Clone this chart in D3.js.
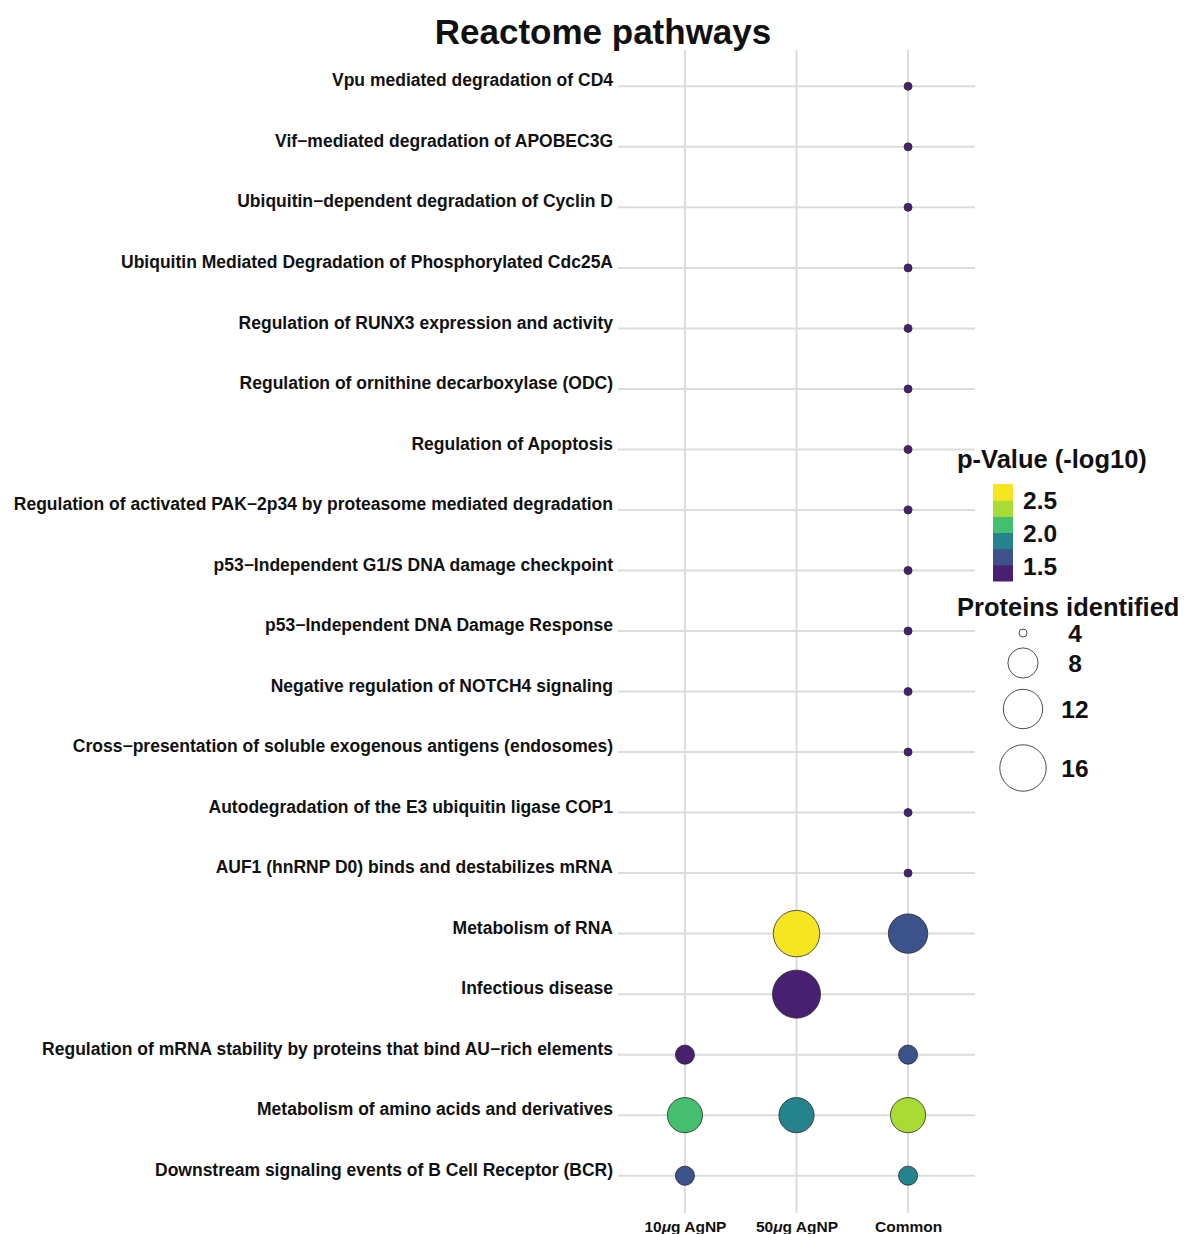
<!DOCTYPE html>
<html>
<head>
<meta charset="utf-8">
<script src="https://cdn.jsdelivr.net/npm/d3@7"></script>
<style>
  body { margin: 0; background: #fff; }
  text { font-family: "Liberation Sans", Arial, sans-serif; font-weight: bold; fill: #111; }
</style>
</head>
<body>
<div id="chart"></div>
<script>
// pathways, top to bottom
var pathways = [
  "Vpu mediated degradation of CD4",
  "Vif\u2212mediated degradation of APOBEC3G",
  "Ubiquitin\u2212dependent degradation of Cyclin D",
  "Ubiquitin Mediated Degradation of Phosphorylated Cdc25A",
  "Regulation of RUNX3 expression and activity",
  "Regulation of ornithine decarboxylase (ODC)",
  "Regulation of Apoptosis",
  "Regulation of activated PAK\u22122p34 by proteasome mediated degradation",
  "p53\u2212Independent G1/S DNA damage checkpoint",
  "p53\u2212Independent DNA Damage Response",
  "Negative regulation of NOTCH4 signaling",
  "Cross\u2212presentation of soluble exogenous antigens (endosomes)",
  "Autodegradation of the E3 ubiquitin ligase COP1",
  "AUF1 (hnRNP D0) binds and destabilizes mRNA",
  "Metabolism of RNA",
  "Infectious disease",
  "Regulation of mRNA stability by proteins that bind AU\u2212rich elements",
  "Metabolism of amino acids and derivatives",
  "Downstream signaling events of B Cell Receptor (BCR)"
];
var groups = ["10\u00b5g AgNP", "50\u00b5g AgNP", "Common"];

// proteins identified per group (null = not enriched)
var count10 = [null,null,null,null,null,null,null,null,null,null,null,null,null,null, null, null, 5, 10, 5];
var count50 = [null,null,null,null,null,null,null,null,null,null,null,null,null,null, 16, 17, null, 10, null];
var countCommon = [4,4,4,4,4,4,4,4,4,4,4,4,4,4, 12, null, 5, 10, 5];

// -log10 p-value per group
var p10 = [null,null,null,null,null,null,null,null,null,null,null,null,null,null, null, null, 1.4, 2.3, 1.64];
var p50 = [null,null,null,null,null,null,null,null,null,null,null,null,null,null, 2.72, 1.4, null, 1.93, null];
var pCommon = [1.4,1.4,1.4,1.4,1.4,1.4,1.4,1.4,1.4,1.4,1.4,1.4,1.4,1.4, 1.64, null, 1.64, 2.55, 1.93];

var colorTicks = [1.5, 2.0, 2.5];
var colorDomain = [1.27, 2.74];
var colorBlocks = [1.4, 1.64, 1.93, 2.3, 2.55, 2.72];
var sizeBreaks = [4, 8, 12, 16];
var sizeDomain = [4, 17];

var points = [];
[[count10, p10], [count50, p50], [countCommon, pCommon]].forEach(function(s, gi){
  pathways.forEach(function(name, i){
    if (s[0][i] != null) points.push({path: name, group: groups[gi], n: s[0][i], p: s[1][i]});
  });
});

var W = 1184, H = 1234;
var svg = d3.select("#chart").append("svg").attr("width", W).attr("height", H);

var x = d3.scalePoint().domain(groups).range([618, 975]).padding(0.6);
var y = d3.scalePoint().domain(pathways).range([50, 1212]).padding(0.6);

// ggplot-like area scale: radius grows with sqrt of rescaled value
var rs = d3.scaleSqrt().domain([0, 1]).range([0, 20]);
function radius(v){ return 4 + rs((v - sizeDomain[0]) / (sizeDomain[1] - sizeDomain[0])); }

var color = d3.scaleSequential(d3.interpolateViridis).domain(colorDomain);

// grid
svg.append("g").selectAll("line").data(pathways).enter().append("line")
  .attr("x1", 618).attr("x2", 975)
  .attr("y1", function(d){ return y(d); }).attr("y2", function(d){ return y(d); })
  .attr("stroke", "#dcdcdc").attr("stroke-width", 2);
svg.append("g").selectAll("line").data(groups).enter().append("line")
  .attr("y1", 50).attr("y2", 1213)
  .attr("x1", function(d){ return x(d); }).attr("x2", function(d){ return x(d); })
  .attr("stroke", "#dcdcdc").attr("stroke-width", 2);

// y labels
var yAxis = svg.append("g").attr("transform", "translate(613,-6)")
  .call(d3.axisLeft(y).tickSize(0).tickPadding(0));
yAxis.select(".domain").remove();
yAxis.selectAll("text").style("font-size", "17.5px").attr("fill", "#111")
  .style("font-family", "'Liberation Sans', Arial, sans-serif");

// x labels
var xAxis = svg.append("g").attr("transform", "translate(0,1213)")
  .call(d3.axisBottom(x).tickSize(0).tickPadding(0));
xAxis.select(".domain").remove();
xAxis.selectAll("text").attr("dy", "1.2em").style("font-size", "15.5px").attr("fill", "#111")
  .style("font-family", "'Liberation Sans', Arial, sans-serif")
  .each(function(d){
    var t = d3.select(this);
    var m = d.match(/^(\d+)\u00b5(g.*)$/);
    if (m) {
      t.text("");
      t.append("tspan").text(m[1]);
      t.append("tspan").style("font-style", "italic").text("\u03bc");
      t.append("tspan").text(m[2]);
    }
  });

// bubbles
svg.append("g").selectAll("circle").data(points).enter().append("circle")
  .attr("cx", function(d){ return x(d.group); })
  .attr("cy", function(d){ return y(d.path); })
  .attr("r", function(d){ return radius(d.n); })
  .attr("fill", function(d){ return color(d.p); })
  .attr("stroke", "#2a2a2a").attr("stroke-width", 0.8);

// title
svg.append("text").attr("x", 603).attr("y", 44).attr("text-anchor", "middle")
  .style("font-size", "35px").text("Reactome pathways");

// colour legend
svg.append("text").attr("x", 957).attr("y", 468).style("font-size", "25.5px").text("p-Value (-log10)");
var cbTop = 484, cbBottom = 581;
var cy = d3.scaleLinear().domain(colorDomain).range([cbBottom, cbTop]);
var bh = (cbBottom - cbTop) / colorBlocks.length;
svg.append("g").selectAll("rect").data(colorBlocks).enter().append("rect")
  .attr("x", 993).attr("width", 20)
  .attr("y", function(d, i){ return cbBottom - (i + 1) * bh; })
  .attr("height", bh + 0.5)
  .attr("fill", function(d){ return color(d); });
svg.append("g").selectAll("text").data(colorTicks).enter().append("text")
  .attr("x", 1023).attr("y", function(d){ return cy(d); }).attr("dy", "0.36em")
  .style("font-size", "24.5px").text(d3.format(".1f"));

// size legend
svg.append("text").attr("x", 957).attr("y", 616).style("font-size", "25.5px").text("Proteins identified");
var sizeY = [633, 663, 709, 768];
var sg = svg.append("g").selectAll("g").data(sizeBreaks).enter().append("g")
  .attr("transform", function(d, i){ return "translate(0," + sizeY[i] + ")"; });
sg.append("circle").attr("cx", 1023).attr("r", function(d){ return radius(d); })
  .attr("fill", "#fff").attr("stroke", "#222").attr("stroke-width", 0.8);
sg.append("text").attr("x", 1075).attr("text-anchor", "middle").attr("dy", "0.36em")
  .style("font-size", "24.5px").text(function(d){ return d; });
</script>
</body>
</html>
